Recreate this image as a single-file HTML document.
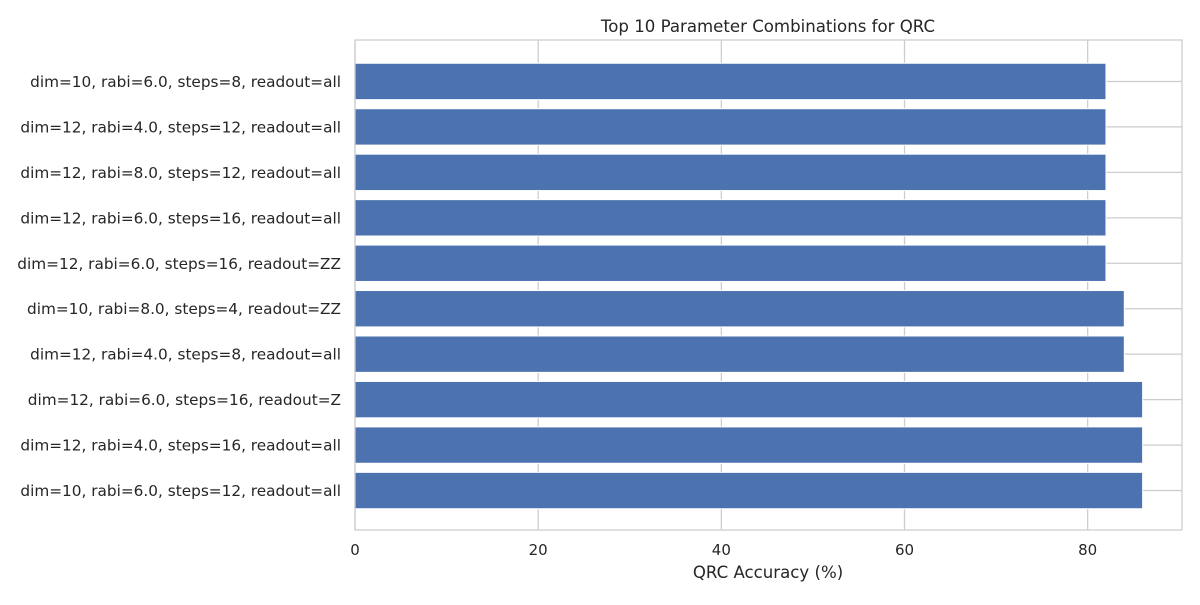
<!DOCTYPE html>
<html><head><meta charset="utf-8"><style>
body{margin:0;background:#fff;}
svg text{font-family:"DejaVu Sans","Liberation Sans",sans-serif;fill:#262626;}
</style></head><body>
<svg id="chart" width="1200" height="600">
<text x="768" y="32" text-anchor="middle" font-size="16.6">Top 10 Parameter Combinations for QRC</text>
<text x="768" y="578" text-anchor="middle" font-size="16.6">QRC Accuracy (%)</text>
<g id="grid"></g><g id="bars"></g><g id="labels"></g>
<rect x="355" y="40" width="827" height="490" fill="none" stroke="#cccccc" stroke-width="1.25"/>
</svg>
<script>
const categories=["dim=10, rabi=6.0, steps=8, readout=all","dim=12, rabi=4.0, steps=12, readout=all","dim=12, rabi=8.0, steps=12, readout=all","dim=12, rabi=6.0, steps=16, readout=all","dim=12, rabi=6.0, steps=16, readout=ZZ","dim=10, rabi=8.0, steps=4, readout=ZZ","dim=12, rabi=4.0, steps=8, readout=all","dim=12, rabi=6.0, steps=16, readout=Z","dim=12, rabi=4.0, steps=16, readout=all","dim=10, rabi=6.0, steps=12, readout=all"];
const values=[82,82,82,82,82,84,84,86,86,86];
const xTicks=[0,20,40,60,80];
const L=355,R=1182,T=40,B=530,XMAX=90.3;
const ns="http://www.w3.org/2000/svg";
const x=v=>L+(v/XMAX)*(R-L);
const n=categories.length;
const ymin=-0.4-0.05*(n-0.2),ymax=n-1+0.4+0.05*(n-0.2);
const band=(B-T)/(ymax-ymin);
const y=i=>T+1+(i-ymin)*band;
function mk(t,a,p){const e=document.createElementNS(ns,t);for(const k in a)e.setAttribute(k,a[k]);p.appendChild(e);return e;}
const g=document.getElementById('grid'),b=document.getElementById('bars'),lb=document.getElementById('labels');
xTicks.forEach(v=>{
 const l=mk('line',{x1:x(v),x2:x(v),y1:T,y2:B,stroke:'#cccccc','stroke-width':1.25},g);
 
 
 const t=mk('text',{x:x(v),y:B+25,'text-anchor':'middle','font-size':15},lb);
 t.textContent=v;
 
 
});
categories.forEach((c,i)=>{
 const l=mk('line',{x1:L,x2:R,y1:y(i),y2:y(i),stroke:'#cccccc','stroke-width':1.25},g);
 
 
 const h=band*0.8;
 const r=mk('rect',{x:L,y:y(i)-h/2,width:x(values[i])-L,height:h,fill:'#4c72b0',stroke:'#ffffff','stroke-width':1},b);
 
 
 const t=mk('text',{x:L-14,y:y(i)+5.5,'text-anchor':'end','font-size':15.3},lb);
 t.textContent=c;
 
 
});
</script>
</body></html>
